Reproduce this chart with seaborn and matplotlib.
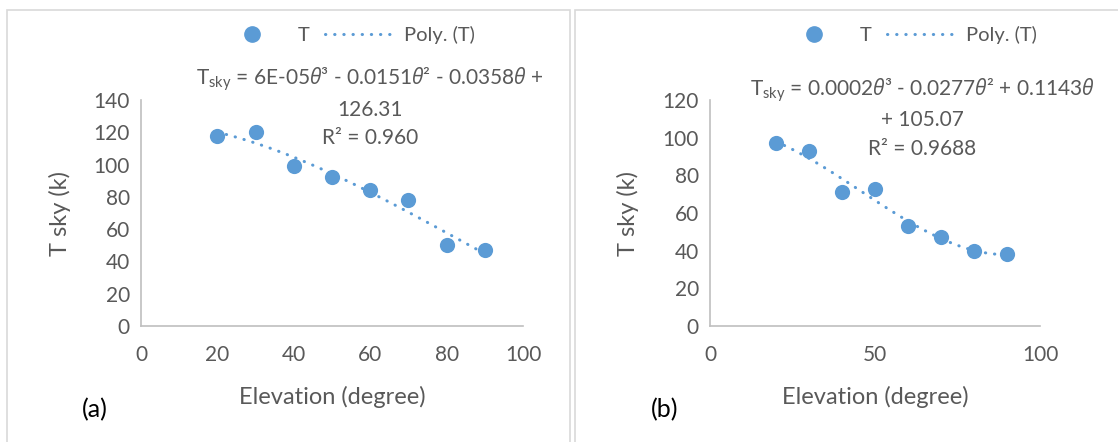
import numpy as np
import pandas as pd
import seaborn as sns
import matplotlib.pyplot as plt
from matplotlib.lines import Line2D
from matplotlib.patches import Rectangle

# data
elevation = [20, 30, 40, 50, 60, 70, 80, 90]
t_sky_a = [118, 120, 99, 92, 84, 78, 50, 47]
t_sky_b = [97, 93, 71, 73, 53, 47, 40, 38]

xticks_a = [0, 20, 40, 60, 80, 100]
yticks_a = [0, 20, 40, 60, 80, 100, 120, 140]
xticks_b = [0, 50, 100]
yticks_b = [0, 20, 40, 60, 80, 100, 120]

eq_a = [r"T$_\mathregular{sky}$ = 6E-05$\theta$³ - 0.0151$\theta$² - 0.0358$\theta$ +",
        "126.31", "R² = 0.960"]
eq_b = [r"T$_\mathregular{sky}$ = 0.0002$\theta$³ - 0.0277$\theta$² + 0.1143$\theta$",
        "+ 105.07", "R² = 0.9688"]

blue = "#5B9BD5"
grey_txt = "#595959"
grey_ax = "#BFBFBF"
dots = (0, (0.1, 2.9))

sns.set_style("white")
plt.rcParams['font.family'] = ['Lato', 'DejaVu Sans']
plt.rcParams['mathtext.fontset'] = 'custom'
plt.rcParams['mathtext.rm'] = 'Lato'
plt.rcParams['mathtext.it'] = 'Open Sans:italic'

W, H = 1118, 442
fig = plt.figure(figsize=(W / 100, H / 100), dpi=100)


def px(x, y):
    return x / W, 1 - y / H


# panel frames
fig.patches.append(Rectangle(px(7, 445), 563 / W, 435 / H, transform=fig.transFigure,
                             fill=False, edgecolor="#D9D9D9", lw=1.2))
fig.patches.append(Rectangle(px(575, 445), 560 / W, 435 / H, transform=fig.transFigure,
                             fill=False, edgecolor="#D9D9D9", lw=1.2))


def panel(rect, values, xticks, yticks, eq, eq_x, eq_y, tag, tag_x, leg_x, ylab_x):
    ax = fig.add_axes(rect)
    df = pd.DataFrame({"Elevation": elevation, "T": values})
    sns.regplot(data=df, x="Elevation", y="T", order=3, ci=None, scatter=False, ax=ax,
                truncate=True,
                line_kws=dict(color=blue, lw=2.2, linestyle=dots,
                              dash_capstyle="round"))
    sns.scatterplot(data=df, x="Elevation", y="T", ax=ax, s=120, color=blue,
                    edgecolor=blue, linewidth=0, zorder=3)
    ax.set_xlim(xticks[0], xticks[-1])
    ax.set_ylim(yticks[0], yticks[-1])
    ax.set_xticks(xticks)
    ax.set_yticks(yticks)
    ax.tick_params(length=0, labelsize=15, labelcolor=grey_txt, pad=14)
    ax.tick_params(axis="y", pad=8)
    for s in ["top", "right"]:
        ax.spines[s].set_visible(False)
    for s in ["left", "bottom"]:
        ax.spines[s].set_color(grey_ax)
        ax.spines[s].set_linewidth(1.2)
    ax.set_xlabel("")
    ax.set_ylabel("")
    ax.patch.set_alpha(0)

    cx = rect[0] * W + rect[2] * W / 2
    fig.text(*px(cx, 397), "Elevation (degree)", ha="center", va="center",
             fontsize=17, color=grey_txt)
    fig.text(*px(ylab_x, 213), "T sky (k)", ha="center", va="center", rotation=90,
             fontsize=17, color=grey_txt)
    fig.text(*px(tag_x, 410), tag, ha="center", va="center", fontsize=18, color="black")
    for line, y in zip(eq, eq_y):
        fig.text(*px(eq_x, y), line, ha="center", va="center", fontsize=15, color=grey_txt)

    handles = [Line2D([], [], marker="o", ls="none", color=blue, markersize=11),
               Line2D([], [], color=blue, lw=2.2, linestyle=dots,
                      dash_capstyle="round")]
    fig.legend(handles, ["T", "Poly. (T)"], loc="center", bbox_to_anchor=px(leg_x, 35),
               ncol=2, frameon=False, fontsize=14.5, labelcolor=grey_txt,
               handlelength=3.3, handletextpad=0.6, columnspacing=0.8)
    return ax


panel([141 / W, 1 - 326 / H, 382 / W, 226 / H], t_sky_a, xticks_a, yticks_a,
      eq_a, 370, [79, 110, 138], "(a)", 95, 347, 60)
panel([710 / W, 1 - 326 / H, 330 / W, 226 / H], t_sky_b, xticks_b, yticks_b,
      eq_b, 922, [90, 120, 149], "(b)", 665, 909, 628)

fig.savefig("out.png", dpi=100)
